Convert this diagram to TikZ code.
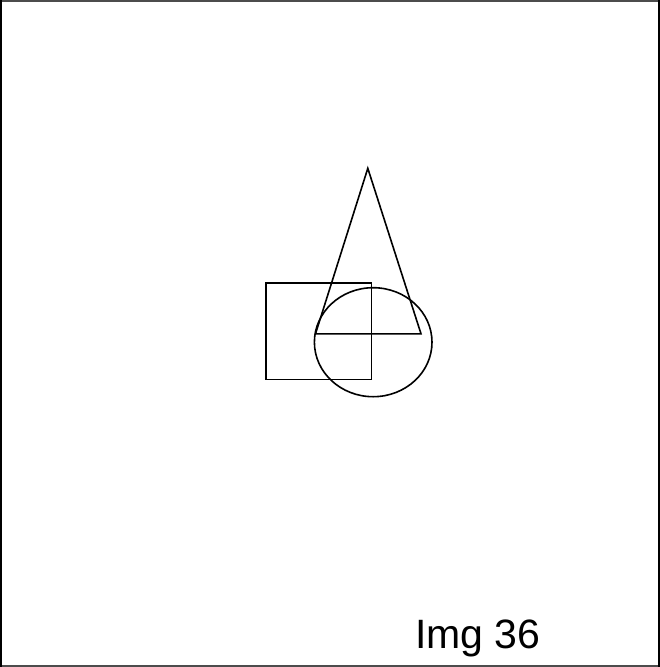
\documentclass[tikz,border=0pt]{standalone}
\usepackage{fontspec}
\setmainfont{Liberation Sans}
\begin{document}
\begin{tikzpicture}[x=1pt,y=-1pt,outl/.style={draw=black,line width=1.6pt}]
\useasboundingbox (0,0) rectangle (660,667);
\draw[line width=1.5pt,black!70] (1,0.8) -- (659,0.8);
\draw[line width=1.5pt,black!70] (1,666) -- (659,666);
\draw[line width=2pt,black] (1,0) -- (1,667);
\draw[line width=2pt,black] (658.5,0) -- (658.5,667);
\draw[outl] (265.7,282.7) rectangle (371.3,379.5);
\coordinate (apex) at (367.8,168.3);
\coordinate (bl) at (315.5,333.8);
\coordinate (br) at (421,333.8);
\draw[outl,line join=miter] (apex) -- (bl) -- (br) -- cycle;
\draw[outl] (373.2,342.2) ellipse [x radius=58.8, y radius=54.5];
\node[anchor=base west,inner sep=0pt,font=\fontsize{41}{49}\selectfont] (lbl) at (415,648) {Img 36};
\end{tikzpicture}
\end{document}
